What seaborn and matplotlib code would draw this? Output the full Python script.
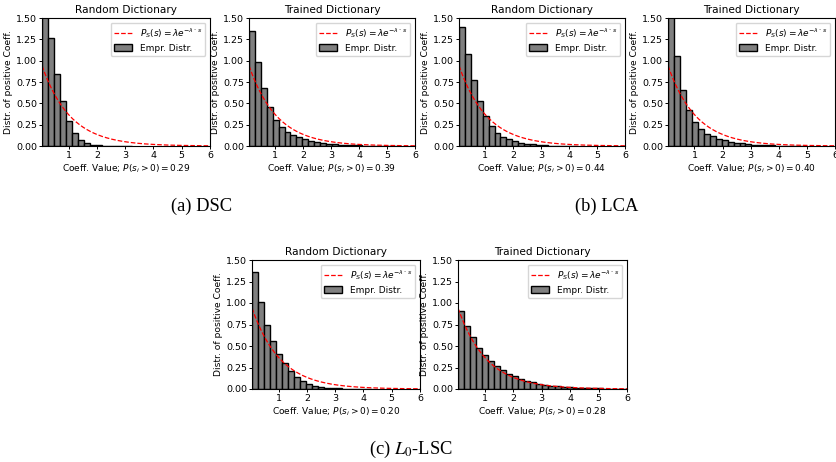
import numpy as np
import pandas as pd
import matplotlib
matplotlib.use("Agg")
import matplotlib.pyplot as plt
import seaborn as sns

# ---------------- data ----------------
bin_start = 0.06
bin_width = 0.212
lam = 1.0

dsc_random = [1.60, 1.26, 0.84, 0.53, 0.29, 0.15, 0.074, 0.035, 0.016, 0.008,
              0.004, 0.002, 0.001, 0.001, 0.0005]
dsc_trained = [1.35, 0.98, 0.68, 0.46, 0.31, 0.226, 0.167, 0.128, 0.10, 0.078,
               0.062, 0.047, 0.035, 0.027, 0.020, 0.015, 0.011, 0.008, 0.006,
               0.004, 0.003, 0.002, 0.0015, 0.001, 0.001]
lca_random = [1.40, 1.08, 0.77, 0.53, 0.35, 0.23, 0.156, 0.109, 0.078, 0.055,
              0.039, 0.027, 0.019, 0.012, 0.008, 0.005, 0.003, 0.002, 0.001,
              0.001]
lca_trained = [1.60, 1.06, 0.66, 0.42, 0.28, 0.20, 0.144, 0.113, 0.086, 0.066,
               0.050, 0.039, 0.031, 0.023, 0.016, 0.012, 0.009, 0.006, 0.004,
               0.003, 0.002, 0.001, 0.001]
l0_random = [1.36, 1.01, 0.74, 0.56, 0.41, 0.30, 0.21, 0.14, 0.093, 0.058,
             0.035, 0.023, 0.015, 0.010, 0.007, 0.005, 0.003, 0.002, 0.001,
             0.001]
l0_trained = [0.91, 0.735, 0.60, 0.48, 0.40, 0.33, 0.27, 0.22, 0.18, 0.148,
              0.12, 0.097, 0.078, 0.062, 0.050, 0.040, 0.033, 0.027, 0.022,
              0.017, 0.013, 0.010, 0.008, 0.006, 0.005, 0.004, 0.003, 0.002]

titles = ["Random Dictionary", "Trained Dictionary"]
p_active = ["0.29", "0.39", "0.44", "0.40", "0.20", "0.28"]
captions = ["(a) DSC", "(b) LCA", "(c) $L_0$-LSC"]
x_ticks = [1, 2, 3, 4, 5, 6]
y_ticks = [0.00, 0.25, 0.50, 0.75, 1.00, 1.25, 1.50]

panels = [dsc_random, dsc_trained, lca_random, lca_trained, l0_random, l0_trained]

# ---------------- layout ----------------
W, H = 836, 462
sns.set_style("ticks")
plt.rcParams["font.family"] = ["DejaVu Sans"]
plt.rcParams["axes.edgecolor"] = "black"
plt.rcParams["xtick.color"] = "black"
plt.rcParams["ytick.color"] = "black"
plt.rcParams["axes.labelcolor"] = "black"
plt.rcParams["text.color"] = "black"

fig = plt.figure(figsize=(W / 100, H / 100), dpi=100)

# (left, right, top, bottom) in pixels
boxes = [
    (42, 210, 18, 146),
    (249, 415, 18, 146),
    (459, 625, 18, 146),
    (668, 835, 18, 146),
    (252, 420, 260, 389),
    (458, 627, 260, 389),
]

s_curve = np.linspace(bin_start, 6, 300)
p_curve = lam * np.exp(-lam * s_curve)

for i, (heights, (l, r, t, b)) in enumerate(zip(panels, boxes)):
    ax = fig.add_axes([l / W, 1 - b / H, (r - l) / W, (b - t) / H])
    n = len(heights)
    edges = bin_start + bin_width * np.arange(n + 1)
    centers = (edges[:-1] + edges[1:]) / 2
    df = pd.DataFrame({"s": centers, "w": heights})
    sns.histplot(data=df, x="s", weights="w", bins=list(edges), ax=ax,
                 stat="count", color="#808080", edgecolor="black",
                 linewidth=1.0, alpha=1.0)
    sns.lineplot(x=s_curve, y=p_curve, ax=ax, color="red", linestyle="--",
                 linewidth=0.9, legend=False)
    ax.set_xlim(bin_start, 6)
    ax.set_ylim(0, 1.5)
    ax.set_xticks(x_ticks)
    ax.set_yticks(y_ticks)
    ax.set_xticklabels([str(v) for v in x_ticks])
    ax.set_yticklabels([f"{v:.2f}" for v in y_ticks])
    ax.tick_params(labelsize=6.8, length=2.2, width=0.7, pad=1.2,
                   direction="out")
    for sp in ax.spines.values():
        sp.set_visible(True)
        sp.set_linewidth(0.8)
        sp.set_color("black")
    ax.set_title(titles[i % 2], fontsize=7.6, pad=3.5)
    ax.set_ylabel("Distr. of positive Coeff.", fontsize=6.6, labelpad=2.5)
    ax.set_xlabel("Coeff. Value; $P(s_i > 0) = " + p_active[i] + "$",
                  fontsize=6.5, labelpad=2)
    ax.legend(handles=[ax.lines[0], ax.patches[0]],
              labels=[r"$P_S(s) = \lambda e^{-\lambda \cdot s}$", "Empr. Distr."],
              loc="upper right", fontsize=6.5, frameon=True, framealpha=0.8,
              edgecolor="#cccccc", fancybox=True, borderpad=0.4,
              handlelength=2.0, labelspacing=0.4)

cap_pos = [(202, 206), (607, 206), (411, 449)]
for txt, (cx, cy) in zip(captions, cap_pos):
    fig.text(cx / W, 1 - cy / H, txt, ha="center", va="center", fontsize=13.3,
             family="Liberation Serif", math_fontfamily="stix")

fig.savefig("out.png", dpi=100)
